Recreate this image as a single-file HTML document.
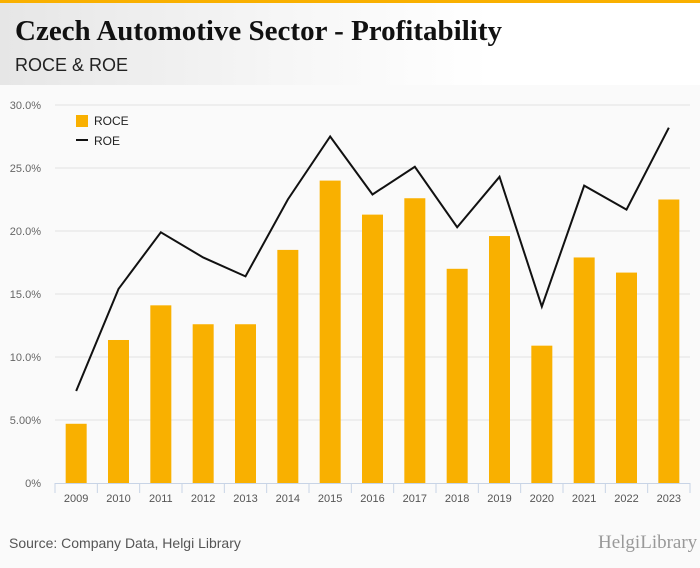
<!DOCTYPE html>
<html><head><meta charset="utf-8"><style>
body{margin:0;width:700px;height:568px;background:#fafafa;font-family:"Liberation Sans",sans-serif;overflow:hidden;position:relative}
#topbar{position:absolute;left:0;top:0;width:700px;height:3px;background:#f9b000}
#header{position:absolute;left:0;top:3px;width:700px;height:82px;background:linear-gradient(90deg,#e6e6e6 0%,#f6f6f6 40%,#fff 70%)}
#title{position:absolute;left:15px;top:12px;font-family:"Liberation Serif",serif;font-weight:bold;font-size:29px;color:#111}
#subtitle{position:absolute;left:15px;top:52px;font-size:18px;color:#222}
#source{position:absolute;left:9px;top:535px;font-size:14px;color:#555}
#logo{position:absolute;left:598px;top:532px;font-family:"Liberation Serif",serif;font-size:19px;color:#999}
</style></head><body>
<div id="topbar"></div>
<div id="header">
<div id="title">Czech Automotive Sector - Profitability</div>
<div id="subtitle">ROCE &amp; ROE</div>
</div>
<svg id="chart" width="700" height="568" style="position:absolute;left:0;top:0"></svg>
<div id="source">Source: Company Data, Helgi Library</div>
<div id="logo">HelgiLibrary</div>
<script>
const years=["2009","2010","2011","2012","2013","2014","2015","2016","2017","2018","2019","2020","2021","2022","2023"];
const roce=[4.7,11.35,14.1,12.6,12.6,18.5,24.0,21.3,22.6,17.0,19.6,10.9,17.9,16.7,22.5];
const roe=[7.3,15.4,19.9,17.9,16.4,22.5,27.5,22.9,25.1,20.3,24.3,14.0,23.6,21.7,28.2];
const yTicks=[0,5,10,15,20,25,30];
const yTickLabels=["0%","5.00%","10.0%","15.0%","20.0%","25.0%","30.0%"];
const NS="http://www.w3.org/2000/svg";
const svg=document.getElementById('chart');
const x0=55,x1=690,y0=483,y1=105,yMax=30;
const step=(x1-x0)/years.length;
function xC(i){return x0+step*(i+0.5);}
function yS(v){return y0-(v/yMax)*(y0-y1);}
function mk(t,a){const e=document.createElementNS(NS,t);for(const k in a)e.setAttribute(k,a[k]);svg.appendChild(e);return e;}
yTicks.forEach((v,i)=>{
 if(v>0){const g=mk('line',{x1:x0,x2:x1,y1:yS(v),y2:yS(v),stroke:'#e3e3e3','stroke-width':1});
 
 }
 const t=mk('text',{x:41,y:yS(v)+4,'text-anchor':'end','font-size':11,fill:'#666'});
 t.textContent=yTickLabels[i];
 
 
});
const ax=mk('line',{x1:x0,x2:x1,y1:y0+0.5,y2:y0+0.5,stroke:'#c8d4e6','stroke-width':1});


for(let i=0;i<=years.length;i++){
 const tk=mk('line',{x1:x0+step*i,x2:x0+step*i,y1:y0,y2:y0+10,stroke:'#c8d4e6'});
 
 
}
years.forEach((yr,i)=>{
 const b=mk('rect',{x:xC(i)-10.5,y:yS(roce[i]),width:21,height:y0-yS(roce[i]),fill:'#f9b000'});
 
 
 const t=mk('text',{x:xC(i),y:502,'text-anchor':'middle','font-size':11,fill:'#555'});
 t.textContent=yr;
 
 
});
const pl=mk('polyline',{points:roe.map((v,i)=>xC(i)+','+yS(v)).join(' '),fill:'none',stroke:'#111','stroke-width':2});


const l1=mk('rect',{x:76,y:115,width:12,height:12,fill:'#f9b000'});


const lt1=mk('text',{x:94,y:125,'font-size':12,fill:'#222'});lt1.textContent='ROCE';


const l2=mk('line',{x1:76,x2:88,y1:140,y2:140,stroke:'#111','stroke-width':2});


const lt2=mk('text',{x:94,y:145,'font-size':12,fill:'#222'});lt2.textContent='ROE';


</script>
</body></html>
